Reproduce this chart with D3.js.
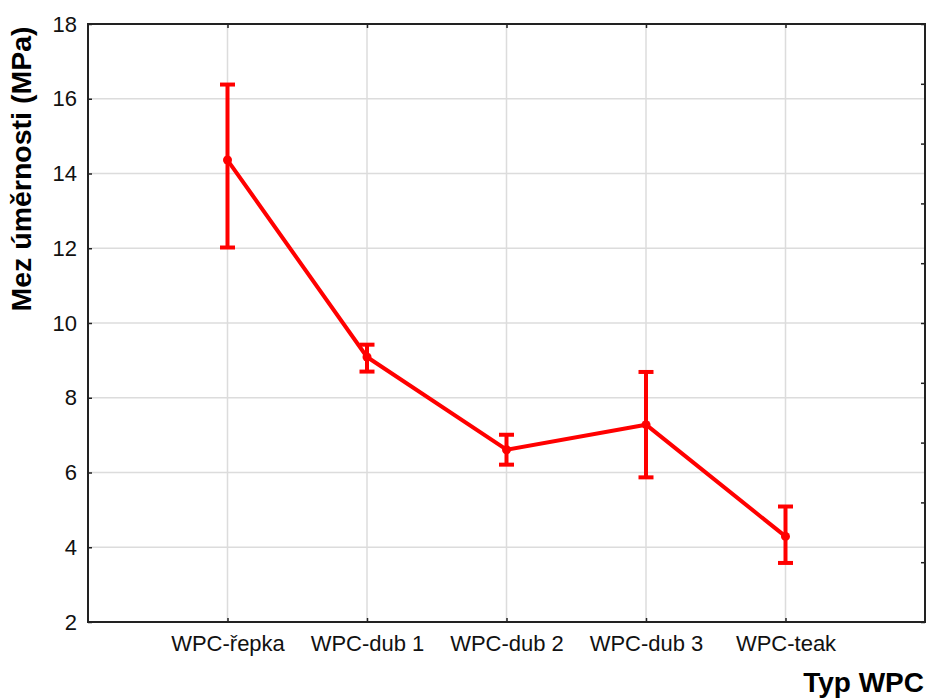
<!DOCTYPE html>
<html>
<head>
<meta charset="utf-8">
<script src="https://cdn.jsdelivr.net/npm/d3@7"></script>
<style>
  html, body { margin: 0; padding: 0; background: #fff; }
  svg { display: block; font-family: "Liberation Sans", Arial, sans-serif; }
</style>
</head>
<body>
<svg id="chart" width="929" height="700"></svg>
<script>
// Mean yield strength by WPC type, with interval bounds
const categories = ["WPC-řepka", "WPC-dub 1", "WPC-dub 2", "WPC-dub 3", "WPC-teak"];
const means = [14.36, 9.09, 6.61, 7.28, 4.29];
const upper = [16.38, 9.42, 7.01, 8.69, 5.09];
const lower = [12.02, 8.70, 6.21, 5.87, 3.58];
const yTicks = [2, 4, 6, 8, 10, 12, 14, 16, 18];

const svg = d3.select("#chart");
const plotL = 88, plotR = 925, plotT = 24, plotB = 622;

const x = d3.scalePoint().domain(categories).range([plotL, plotR]).padding(1);
const y = d3.scaleLinear().domain([2, 18]).range([plotB, plotT]);
// unlabelled secondary scale for the right-hand frame ticks
const yRight = d3.scaleLinear().domain([0, 10]).range([plotB, plotT]);

// grid
const grid = svg.append("g").attr("stroke", "#dcdcdc").attr("stroke-width", 1.5);
grid.selectAll("line.h").data(yTicks.slice(1, -1)).join("line")
  .attr("class", "h")
  .attr("x1", plotL).attr("x2", plotR)
  .attr("y1", d => y(d)).attr("y2", d => y(d));
grid.selectAll("line.v").data(categories).join("line")
  .attr("class", "v")
  .attr("y1", plotT).attr("y2", plotB)
  .attr("x1", d => x(d)).attr("x2", d => x(d));

// axes with inward ticks
const axisStyle = g => {
  g.select(".domain").remove();
  g.selectAll(".tick line").attr("stroke", "#222").attr("stroke-width", 1.5);
  g.selectAll(".tick text").attr("fill", "#111")
    .style("font-family", "'Liberation Sans', Arial, sans-serif")
    .style("font-size", "22px");
};

svg.append("g").attr("transform", `translate(${plotL},0)`)
  .call(d3.axisLeft(y).tickValues(yTicks).tickFormat(d3.format("d")).tickSize(-4).tickPadding(11))
  .call(axisStyle);

svg.append("g").attr("transform", `translate(0,${plotB})`)
  .call(d3.axisBottom(x).tickSize(-4).tickPadding(13))
  .call(axisStyle);

svg.append("g").attr("transform", `translate(0,${plotT})`)
  .call(d3.axisTop(x).tickSize(-4).tickFormat(""))
  .call(axisStyle);

svg.append("g").attr("transform", `translate(${plotR},0)`)
  .call(d3.axisRight(yRight).ticks(10).tickSize(-4).tickFormat(""))
  .call(axisStyle);

// frame
svg.append("rect")
  .attr("x", plotL).attr("y", plotT)
  .attr("width", plotR - plotL).attr("height", plotB - plotT)
  .attr("fill", "none").attr("stroke", "#222").attr("stroke-width", 2);

// series
const red = "#ff0000";
const pts = categories.map((c, i) => ({ c, m: means[i], hi: upper[i], lo: lower[i] }));

svg.append("path")
  .datum(pts)
  .attr("fill", "none").attr("stroke", red).attr("stroke-width", 4)
  .attr("stroke-linejoin", "round")
  .attr("d", d3.line().x(d => x(d.c)).y(d => y(d.m)));

const eb = svg.append("g").attr("stroke", red).attr("stroke-width", 4);
eb.selectAll("line.stem").data(pts).join("line")
  .attr("class", "stem")
  .attr("x1", d => x(d.c)).attr("x2", d => x(d.c))
  .attr("y1", d => y(d.hi)).attr("y2", d => y(d.lo));
eb.selectAll("line.capHi").data(pts).join("line")
  .attr("class", "capHi")
  .attr("x1", d => x(d.c) - 7.5).attr("x2", d => x(d.c) + 7.5)
  .attr("y1", d => y(d.hi)).attr("y2", d => y(d.hi));
eb.selectAll("line.capLo").data(pts).join("line")
  .attr("class", "capLo")
  .attr("x1", d => x(d.c) - 7.5).attr("x2", d => x(d.c) + 7.5)
  .attr("y1", d => y(d.lo)).attr("y2", d => y(d.lo));

svg.append("g").selectAll("circle").data(pts).join("circle")
  .attr("cx", d => x(d.c)).attr("cy", d => y(d.m)).attr("r", 4.5)
  .attr("fill", red);

// axis titles
svg.append("text")
  .attr("transform", "translate(31,169) rotate(-90)")
  .attr("text-anchor", "middle")
  .style("font-size", "28.5px").style("font-weight", "bold").attr("fill", "#000")
  .text("Mez úměrnosti (MPa)");

svg.append("text")
  .attr("x", 924).attr("y", 692)
  .attr("text-anchor", "end")
  .style("font-size", "28px").style("font-weight", "bold").attr("fill", "#000")
  .text("Typ WPC");
</script>
</body>
</html>
